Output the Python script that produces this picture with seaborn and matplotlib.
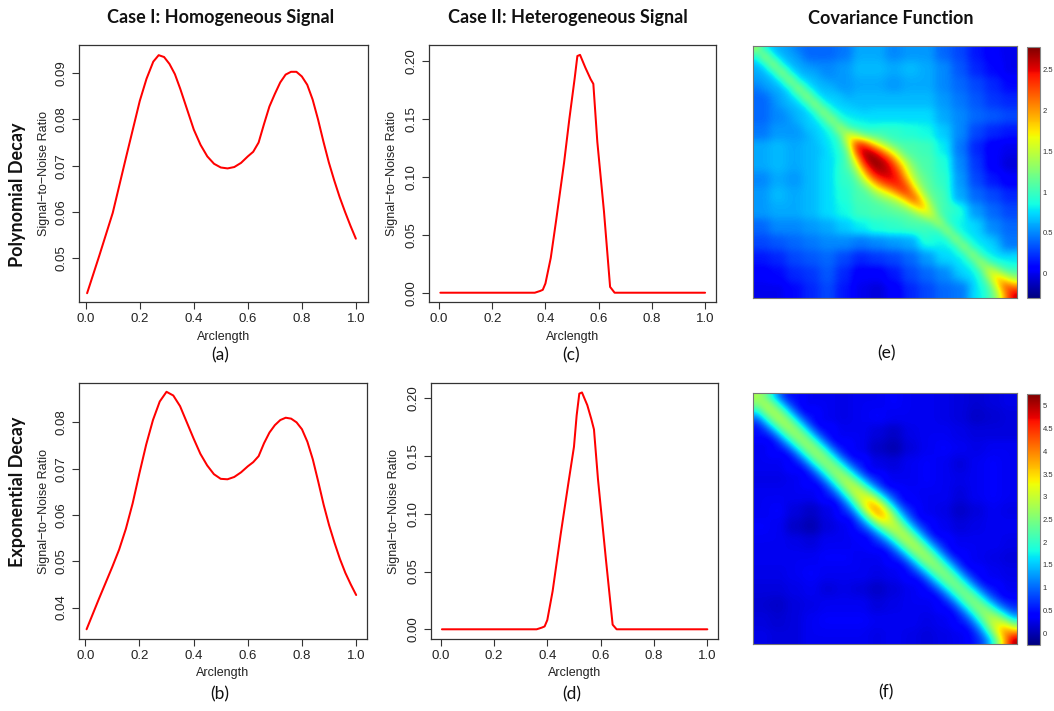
import numpy as np
import pandas as pd
import matplotlib
matplotlib.use("Agg")
import matplotlib.pyplot as plt
import seaborn as sns

# ---------------- data ----------------
# (a) Polynomial decay, homogeneous signal
arc_a = [0.005, 0.05, 0.10, 0.15, 0.20, 0.225, 0.25, 0.27, 0.29, 0.31, 0.33, 0.35, 0.375,
         0.40, 0.425, 0.45, 0.475, 0.50, 0.525, 0.55, 0.575, 0.60, 0.62, 0.64, 0.66, 0.68,
         0.70, 0.72, 0.74, 0.76, 0.78, 0.80, 0.82, 0.84, 0.86, 0.88, 0.90, 0.92, 0.94,
         0.96, 0.98, 1.0]
snr_a = [0.0424, 0.0505, 0.0598, 0.0720, 0.0840, 0.0888, 0.0925, 0.0939, 0.0935, 0.0920,
         0.0898, 0.0866, 0.0822, 0.0778, 0.0745, 0.0720, 0.0704, 0.0696, 0.0694, 0.0697,
         0.0706, 0.0720, 0.0730, 0.0750, 0.0790, 0.0828, 0.0855, 0.0880, 0.0897, 0.0903,
         0.0903, 0.0893, 0.0875, 0.0843, 0.0800, 0.0752, 0.0707, 0.0668, 0.0632, 0.0600,
         0.0570, 0.0542]
# (b) Exponential decay, homogeneous signal
arc_b = [0.005, 0.05, 0.10, 0.125, 0.15, 0.175, 0.20, 0.225, 0.25, 0.275, 0.30, 0.325,
         0.35, 0.375, 0.40, 0.425, 0.45, 0.475, 0.50, 0.525, 0.55, 0.575, 0.60, 0.62,
         0.64, 0.66, 0.68, 0.70, 0.72, 0.74, 0.76, 0.78, 0.80, 0.82, 0.84, 0.86, 0.88,
         0.90, 0.92, 0.94, 0.96, 0.98, 1.0]
snr_b = [0.0353, 0.0418, 0.0488, 0.0525, 0.0570, 0.0625, 0.0690, 0.0752, 0.0805, 0.0845,
         0.0866, 0.0858, 0.0835, 0.0800, 0.0765, 0.0732, 0.0707, 0.0688, 0.0678, 0.0677,
         0.0682, 0.0692, 0.0705, 0.0714, 0.0727, 0.0755, 0.0778, 0.0794, 0.0805, 0.0810,
         0.0808, 0.0800, 0.0785, 0.0758, 0.0720, 0.0672, 0.0622, 0.0578, 0.0540, 0.0505,
         0.0475, 0.0450, 0.0427]
# (c) Polynomial decay, heterogeneous signal
arc_c = [0.005, 0.20, 0.36, 0.38, 0.39, 0.40, 0.42, 0.44, 0.47, 0.49, 0.51, 0.52,
         0.53, 0.55, 0.57, 0.58, 0.595, 0.62, 0.643, 0.66, 0.70, 1.0]
snr_c = [0.0, 0.0, 0.0, 0.0015, 0.0025, 0.008, 0.030, 0.062, 0.112, 0.150, 0.185, 0.204,
         0.205, 0.194, 0.184, 0.180, 0.130, 0.070, 0.005, 0.0, 0.0, 0.0]
# (d) Exponential decay, heterogeneous signal
arc_d = [0.005, 0.20, 0.36, 0.38, 0.39, 0.40, 0.42, 0.45, 0.48, 0.50, 0.51, 0.52,
         0.53, 0.55, 0.565, 0.575, 0.59, 0.62, 0.645, 0.66, 0.70, 1.0]
snr_d = [0.0, 0.0, 0.0, 0.0015, 0.0025, 0.008, 0.033, 0.082, 0.128, 0.158, 0.185, 0.204,
         0.205, 0.194, 0.182, 0.173, 0.130, 0.060, 0.004, 0.0, 0.0, 0.0]

# (e) covariance, polynomial decay
# coarse 16x16 background (upper triangle rows)
cov_e_coarse = [
    [1.10, 0.70, 0.45, 0.40, 0.40, 0.45, 0.60, 0.60, 0.50, 0.55, 0.55, 0.40, 0.30, 0.15, 0.05, 0.00],
    [1.20, 0.65, 0.50, 0.50, 0.55, 0.65, 0.65, 0.60, 0.65, 0.60, 0.50, 0.35, 0.20, 0.10, 0.00],
    [1.30, 0.65, 0.55, 0.55, 0.60, 0.60, 0.55, 0.60, 0.60, 0.50, 0.40, 0.30, 0.20, 0.10],
    [1.35, 0.70, 0.60, 0.65, 0.65, 0.65, 0.65, 0.65, 0.55, 0.45, 0.35, 0.25, 0.20],
    [1.40, 0.75, 0.70, 0.75, 0.75, 0.75, 0.75, 0.60, 0.50, 0.40, 0.35, 0.30],
    [1.55, 1.05, 0.95, 0.95, 0.90, 0.85, 0.70, 0.50, 0.30, 0.20, 0.15],
    [2.50, 1.30, 1.05, 1.05, 1.00, 0.80, 0.45, 0.20, 0.05, 0.00],
    [2.78, 1.30, 1.10, 1.05, 0.90, 0.50, 0.25, 0.05, -0.05],
    [2.50, 1.25, 1.05, 0.95, 0.55, 0.30, 0.15, 0.05],
    [2.40, 1.20, 0.95, 0.60, 0.40, 0.30, 0.20],
    [2.00, 1.10, 0.80, 0.55, 0.40, 0.30],
    [1.50, 0.95, 0.70, 0.50, 0.40],
    [1.45, 0.90, 0.60, 0.45],
    [1.40, 0.90, 0.75],
    [1.75, 1.20],
    [2.55],
]
# fine 32-step band near the diagonal: lag 0 .. lag 4
cov_e_lag0 = [1.35, 1.45, 1.45, 1.45, 1.45, 1.45, 1.45, 1.45, 1.45, 1.45, 1.50, 1.75, 2.40, 2.70,
              2.78, 2.72, 2.55, 2.45, 2.40, 2.30, 2.00, 1.65, 1.50, 1.45, 1.45, 1.45, 1.45, 1.50,
              1.65, 1.95, 2.30, 2.60]
cov_e_lag1 = [0.85, 0.85, 0.85, 0.85, 0.85, 0.90, 0.90, 0.90, 0.95, 0.95, 1.05, 1.50, 2.30, 2.60,
              2.65, 2.55, 2.40, 2.20, 1.95, 1.70, 1.40, 1.10, 0.95, 0.90, 0.90, 0.90, 0.95, 1.05,
              1.35, 1.65, 2.05]
cov_e_lag2 = [0.65, 0.65, 0.65, 0.65, 0.70, 0.70, 0.70, 0.75, 0.80, 0.85, 0.95, 1.20, 1.80, 2.20,
              2.35, 2.20, 1.85, 1.55, 1.35, 1.20, 1.05, 0.95, 0.85, 0.80, 0.80, 0.80, 0.80, 0.90,
              1.05, 1.35]
cov_e_lag3 = [0.60, 0.60, 0.60, 0.60, 0.65, 0.65, 0.70, 0.70, 0.75, 0.80, 0.90, 1.10, 1.45, 1.75,
              1.80, 1.60, 1.35, 1.20, 1.10, 1.05, 1.00, 0.90, 0.80, 0.75, 0.75, 0.75, 0.75, 0.85,
              1.00]
cov_e_lag4 = [0.55, 0.55, 0.55, 0.60, 0.60, 0.65, 0.70, 0.70, 0.75, 0.80, 0.90, 1.05, 1.20, 1.35,
              1.35, 1.25, 1.15, 1.10, 1.05, 1.00, 0.95, 0.85, 0.75, 0.70, 0.70, 0.70, 0.70, 0.80]

# (f) covariance, exponential decay
cov_f_coarse = [
    [2.9, 1.4, 0.5, 0.3, 0.3, 0.25, 0.3, 0.3, 0.35, 0.3, 0.3, 0.25, 0.2, 0.15, 0.2, 0.25],
    [2.8, 1.3, 0.5, 0.3, 0.25, 0.3, 0.35, 0.3, 0.3, 0.3, 0.25, 0.2, 0.1, 0.15, 0.2],
    [2.7, 1.2, 0.45, 0.3, 0.3, 0.2, 0.1, 0.25, 0.3, 0.3, 0.25, 0.2, 0.2, 0.2],
    [2.6, 1.2, 0.45, 0.3, 0.1, 0.0, 0.2, 0.3, 0.35, 0.3, 0.25, 0.3, 0.3],
    [2.6, 1.3, 0.5, 0.25, 0.2, 0.3, 0.35, 0.3, 0.2, 0.3, 0.35, 0.3],
    [2.8, 1.5, 0.5, 0.3, 0.3, 0.35, 0.3, 0.25, 0.3, 0.35, 0.3],
    [3.1, 1.9, 0.5, 0.35, 0.3, 0.3, 0.2, 0.3, 0.35, 0.3],
    [3.9, 1.9, 0.5, 0.3, 0.25, 0.1, 0.2, 0.3, 0.25],
    [3.1, 1.5, 0.45, 0.3, 0.2, 0.25, 0.3, 0.3],
    [2.9, 1.4, 0.45, 0.3, 0.3, 0.3, 0.25],
    [2.7, 1.3, 0.4, 0.3, 0.25, 0.2],
    [2.5, 1.2, 0.4, 0.3, 0.25],
    [2.4, 1.2, 0.45, 0.3],
    [2.5, 1.4, 0.5],
    [3.0, 1.2],
    [5.1],
]
cov_f_lag0 = [2.80, 2.90, 2.90, 2.90, 2.85, 2.80, 2.80, 2.80, 2.75, 2.75, 2.85, 3.00, 3.15, 3.30,
              3.85, 3.80, 3.15, 3.00, 3.00, 2.95, 2.85, 2.80, 2.70, 2.65, 2.60, 2.60, 2.65, 2.70,
              2.85, 3.20, 4.00, 5.10]
cov_f_lag1 = [2.50, 2.55, 2.55, 2.50, 2.45, 2.40, 2.40, 2.40, 2.35, 2.40, 2.50, 2.65, 2.85, 3.30,
              3.50, 3.20, 2.75, 2.60, 2.55, 2.50, 2.45, 2.35, 2.30, 2.25, 2.20, 2.25, 2.30, 2.45,
              2.80, 3.30, 3.90]
cov_f_lag2 = [1.60, 1.60, 1.55, 1.50, 1.45, 1.40, 1.40, 1.40, 1.40, 1.45, 1.55, 1.70, 1.95, 2.20,
              2.20, 1.95, 1.70, 1.60, 1.55, 1.50, 1.45, 1.40, 1.35, 1.30, 1.30, 1.35, 1.40, 1.60,
              2.00, 2.50]
cov_f_lag3 = [0.80, 0.80, 0.75, 0.75, 0.70, 0.70, 0.70, 0.70, 0.75, 0.80, 0.85, 0.95, 1.10, 1.20,
              1.15, 1.00, 0.90, 0.85, 0.80, 0.80, 0.75, 0.75, 0.70, 0.70, 0.70, 0.75, 0.85, 1.00,
              1.30]
cov_f_lag4 = [0.45, 0.45, 0.40, 0.40, 0.40, 0.40, 0.40, 0.40, 0.45, 0.45, 0.50, 0.55, 0.65, 0.65,
              0.60, 0.55, 0.50, 0.45, 0.45, 0.45, 0.40, 0.40, 0.40, 0.40, 0.45, 0.50, 0.55, 0.70]

cbar_e_ticks = [0, 0.5, 1, 1.5, 2, 2.5]
cbar_f_ticks = [0, 0.5, 1, 1.5, 2, 2.5, 3, 3.5, 4, 4.5, 5]
x_ticks = [0.0, 0.2, 0.4, 0.6, 0.8, 1.0]
y_ticks_a = [0.05, 0.06, 0.07, 0.08, 0.09]
y_ticks_b = [0.04, 0.05, 0.06, 0.07, 0.08]
y_ticks_cd = [0.00, 0.05, 0.10, 0.15, 0.20]


def full_matrix(upper):
    n = len(upper)
    m = np.zeros((n, n))
    for i, row in enumerate(upper):
        for k, v in enumerate(row):
            m[i, i + k] = v
            m[i + k, i] = v
    return m


def cov_matrix(coarse, lags):
    # coarse grid cells doubled to the fine grid, then the diagonal band filled in
    m = np.repeat(np.repeat(full_matrix(coarse), 2, axis=0), 2, axis=1)
    for k, vals in enumerate(lags):
        for i, v in enumerate(vals):
            m[i, i + k] = v
            m[i + k, i] = v
    return m


# ---------------- figure ----------------
sns.set_style("ticks")
plt.rcParams["font.family"] = ["Liberation Sans", "DejaVu Sans"]

W, H = 1054, 711
fig = plt.figure(figsize=(W / 100, H / 100), dpi=100)


def rect(l, t, r, b):
    return [l / W, 1 - b / H, (r - l) / W, (b - t) / H]


def line_panel(box, x, y, xlim, ylim, yticks, ylab_x, xlab_y):
    ax = fig.add_axes(rect(*box))
    df = pd.DataFrame({"Arclength": x, "SNR": y})
    sns.lineplot(data=df, x="Arclength", y="SNR", ax=ax, color="#ff0000",
                 linewidth=1.45, sort=False)
    ax.set_xlim(*xlim)
    ax.set_ylim(*ylim)
    ax.set_xticks(x_ticks)
    ax.set_xticklabels([f"{v:.1f}" for v in x_ticks])
    ax.set_yticks(yticks)
    ax.set_yticklabels([f"{v:.2f}" for v in yticks], rotation=90, va="center")
    ax.tick_params(direction="out", length=5, width=0.8, labelsize=9.5,
                   color="#333333", labelcolor="#222222", pad=3)
    for s in ax.spines.values():
        s.set_visible(True)
        s.set_linewidth(0.9)
        s.set_color("#333333")
    ax.set_xlabel("Arclength", fontsize=9, color="#222222")
    ax.set_ylabel("Signal\u2212to\u2212Noise Ratio", fontsize=9, color="#222222")
    ax.yaxis.set_label_coords(ylab_x, 0.5)
    ax.xaxis.set_label_coords(0.5, xlab_y)
    return ax


line_panel((79, 45, 368, 302), arc_a, snr_a, (-0.025, 1.045), (0.0405, 0.0961),
           y_ticks_a, -0.100, -0.112)
line_panel((79, 383, 367, 639), arc_b, snr_b, (-0.023, 1.04), (0.0332, 0.0885),
           y_ticks_b, -0.100, -0.110)
line_panel((429, 45, 716, 302), arc_c, snr_c, (-0.0376, 1.041), (-0.008, 0.2135),
           y_ticks_cd, -0.108, -0.112)
line_panel((431, 383, 718, 639), arc_d, snr_d, (-0.036, 1.04), (-0.0084, 0.2132),
           y_ticks_cd, -0.108, -0.110)


def heat_panel(box, cbox, mat, vmin, vmax, ticks):
    ax = fig.add_axes(rect(*box))
    im = ax.imshow(mat, cmap="jet", vmin=vmin, vmax=vmax, interpolation="bicubic",
                   aspect="auto", origin="upper")
    ax.set_xticks([])
    ax.set_yticks([])
    for s in ax.spines.values():
        s.set_linewidth(0.8)
        s.set_color("#777777")
    cax = fig.add_axes(rect(*cbox))
    cb = fig.colorbar(im, cax=cax, ticks=ticks)
    cb.ax.set_yticklabels([f"{t:g}" for t in ticks])
    cb.ax.tick_params(direction="in", length=3, width=0.6, labelsize=5.5,
                      color="#222222", labelcolor="#333333", pad=2)
    cb.outline.set_edgecolor("#888888")
    cb.outline.set_linewidth(0.8)
    return ax


heat_panel((753, 46, 1017, 298), (1027, 47, 1040, 298),
           cov_matrix(cov_e_coarse, [cov_e_lag0, cov_e_lag1, cov_e_lag2, cov_e_lag3, cov_e_lag4]),
           -0.30, 2.78, cbar_e_ticks)
heat_panel((753, 393, 1017, 644), (1027, 394, 1040, 645),
           cov_matrix(cov_f_coarse, [cov_f_lag0, cov_f_lag1, cov_f_lag2, cov_f_lag3, cov_f_lag4]),
           -0.26, 5.26, cbar_f_ticks)

# titles, row labels, panel labels
bold = dict(family=["Lato", "DejaVu Sans"], fontweight="bold", fontsize=13, color="#111111")
fig.text(221 / W, 1 - 18 / H, "Case I: Homogeneous Signal", ha="center", va="center", **bold)
fig.text(568 / W, 1 - 18 / H, "Case II: Heterogeneous Signal", ha="center", va="center", **bold)
fig.text(891 / W, 1 - 18 / H, "Covariance Function", ha="center", va="center", **bold)
fig.text(18 / W, 1 - 195 / H, "Polynomial Decay", ha="center", va="center", rotation=90, **bold)
fig.text(18 / W, 1 - 492 / H, "Exponential Decay", ha="center", va="center", rotation=90, **bold)

lab = dict(family=["Lato", "DejaVu Sans"], fontsize=12.5, color="#111111", ha="center", va="center")
for txt, x, y in [("(a)", 220, 355), ("(c)", 571, 355), ("(e)", 887, 353),
                  ("(b)", 220, 694), ("(d)", 572, 694), ("(f)", 886, 692)]:
    fig.text(x / W, 1 - y / H, txt, **lab)

fig.savefig("out.png", dpi=100)
